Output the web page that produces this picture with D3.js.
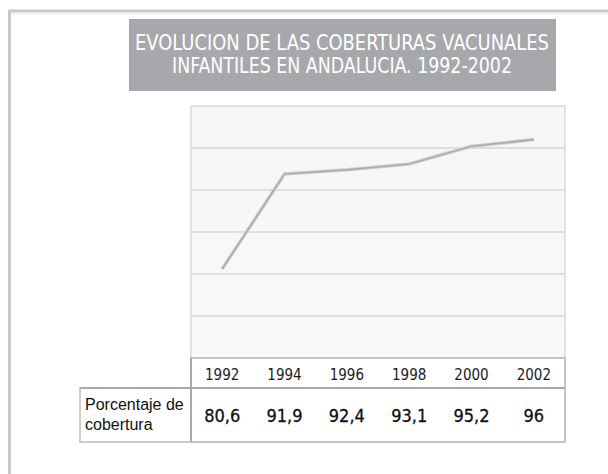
<!DOCTYPE html>
<html>
<head>
<meta charset="utf-8">
<script src="https://cdn.jsdelivr.net/npm/d3@7"></script>
<style>
  html, body { margin: 0; padding: 0; background: #fff; }
  svg { display: block; }
</style>
</head>
<body>
<div id="chart"></div>
<script>
// data
var years = ["1992", "1994", "1996", "1998", "2000", "2002"];
var coverage = [80.6, 91.9, 92.4, 93.1, 95.2, 96];
var valueLabels = ["80,6", "91,9", "92,4", "93,1", "95,2", "96"];
var titleLines = ["EVOLUCION DE LAS COBERTURAS VACUNALES", "INFANTILES EN ANDALUCIA. 1992-2002"];
var rowLabel = ["Porcentaje de", "cobertura"];

var width = 608, height = 474;
var plot = {left: 191, right: 565, top: 106, bottom: 358};
var yearRowBottom = 388, tableBottom = 442, labelLeft = 80;

var svg = d3.select("#chart")
  .append("svg")
    .attr("width", width)
    .attr("height", height);

// outer frame (only top and left visible)
svg.append("line").attr("x1", 8).attr("x2", width).attr("y1", 11).attr("y2", 11)
    .attr("stroke", "#c9c9c9").attr("stroke-width", 3);
svg.append("line").attr("x1", 9.5).attr("x2", 9.5).attr("y1", 10).attr("y2", height)
    .attr("stroke", "#c9c9c9").attr("stroke-width", 3);
svg.append("line").attr("x1", 11).attr("x2", width).attr("y1", 13.5).attr("y2", 13.5)
    .attr("stroke", "#eeeeee").attr("stroke-width", 2);

// title box
svg.append("rect")
    .attr("x", 129).attr("y", 19)
    .attr("width", 427).attr("height", 72)
    .attr("fill", "#a7a8ab");

var titleWidths = [414, 340];
svg.append("g").selectAll("text")
  .data(titleLines)
  .enter()
  .append("text")
    .attr("x", 342)
    .attr("y", function(d, i) { return 50 + i * 23; })
    .attr("text-anchor", "middle")
    .attr("textLength", function(d, i) { return titleWidths[i]; })
    .attr("lengthAdjust", "spacingAndGlyphs")
    .attr("fill", "#fff")
    .style("font-family", "'Liberation Sans Narrow', 'DejaVu Sans Condensed', sans-serif")
    .style("font-size", "22px")
    .text(function(d) { return d; });

// scales
var x = d3.scaleBand()
    .domain(years)
    .range([plot.left, plot.right]);

var y = d3.scaleLinear()
    .domain([70, 100])
    .range([plot.bottom, plot.top]);

// plot background
var grad = svg.append("defs").append("linearGradient")
    .attr("id", "bg").attr("x1", 0).attr("x2", 0).attr("y1", 0).attr("y2", 1);
grad.append("stop").attr("offset", "0%").attr("stop-color", "#f6f6f6");
grad.append("stop").attr("offset", "100%").attr("stop-color", "#f9f9f9");

svg.append("rect")
    .attr("x", plot.left).attr("y", plot.top)
    .attr("width", plot.right - plot.left)
    .attr("height", plot.bottom - plot.top)
    .attr("fill", "url(#bg)")
    .attr("stroke", "#e2e2e2")
    .attr("stroke-width", 2);

// gridlines
svg.append("g")
  .selectAll("line")
  .data(y.ticks(6).filter(function(d) { return d > 70 && d < 100; }))
  .enter()
  .append("line")
    .attr("x1", plot.left).attr("x2", plot.right)
    .attr("y1", function(d) { return y(d); })
    .attr("y2", function(d) { return y(d); })
    .attr("stroke", "#dedede")
    .attr("stroke-width", 2);

// line
var line = d3.line()
    .x(function(d, i) { return x(years[i]) + x.bandwidth() / 2; })
    .y(function(d) { return y(d); });

svg.append("path")
    .datum(coverage)
    .attr("d", line)
    .attr("fill", "none")
    .attr("stroke", "#d2d2d2")
    .attr("stroke-width", 3.5);
svg.append("path")
    .datum(coverage)
    .attr("d", line)
    .attr("fill", "none")
    .attr("stroke", "#acacac")
    .attr("stroke-width", 1.6);

// data table
var table = svg.append("g");
table.append("rect")
    .attr("x", plot.left).attr("y", plot.bottom)
    .attr("width", plot.right - plot.left)
    .attr("height", tableBottom - plot.bottom)
    .attr("fill", "#fff")
    .attr("stroke", "#c4c4c4")
    .attr("stroke-width", 2);
table.append("rect")
    .attr("x", labelLeft).attr("y", yearRowBottom)
    .attr("width", plot.left - labelLeft)
    .attr("height", tableBottom - yearRowBottom)
    .attr("fill", "#fff")
    .attr("stroke", "#cccccc")
    .attr("stroke-width", 2);
table.append("line")
    .attr("x1", labelLeft).attr("x2", plot.right)
    .attr("y1", yearRowBottom).attr("y2", yearRowBottom)
    .attr("stroke", "#a9a9a9").attr("stroke-width", 2);
table.append("line")
    .attr("x1", plot.left).attr("x2", plot.left)
    .attr("y1", plot.bottom).attr("y2", tableBottom)
    .attr("stroke", "#a9a9a9").attr("stroke-width", 2);

table.selectAll(".year")
  .data(years)
  .enter()
  .append("text")
    .attr("class", "year")
    .attr("x", function(d) { return x(d) + x.bandwidth() / 2; })
    .attr("y", 380)
    .attr("text-anchor", "middle")
    .attr("fill", "#1a1a1a")
    .style("font-family", "'DejaVu Sans Condensed', sans-serif")
    .style("font-size", "15px")
    .text(function(d) { return d; });

table.selectAll(".val")
  .data(valueLabels)
  .enter()
  .append("text")
    .attr("class", "val")
    .attr("x", function(d, i) { return x(years[i]) + x.bandwidth() / 2; })
    .attr("y", 422)
    .attr("text-anchor", "middle")
    .attr("fill", "#111")
    .style("font-family", "'DejaVu Sans Condensed', sans-serif")
    .style("font-size", "18px")
    .style("stroke", "#111")
    .style("stroke-width", "0.3px")
    .text(function(d) { return d; });

table.selectAll(".lbl")
  .data(rowLabel)
  .enter()
  .append("text")
    .attr("class", "lbl")
    .attr("x", 85)
    .attr("y", function(d, i) { return 410 + i * 20; })
    .attr("fill", "#111")
    .style("font-family", "'Liberation Sans', Arial, sans-serif")
    .style("font-size", "16px")
    .text(function(d) { return d; });
</script>
</body>
</html>
